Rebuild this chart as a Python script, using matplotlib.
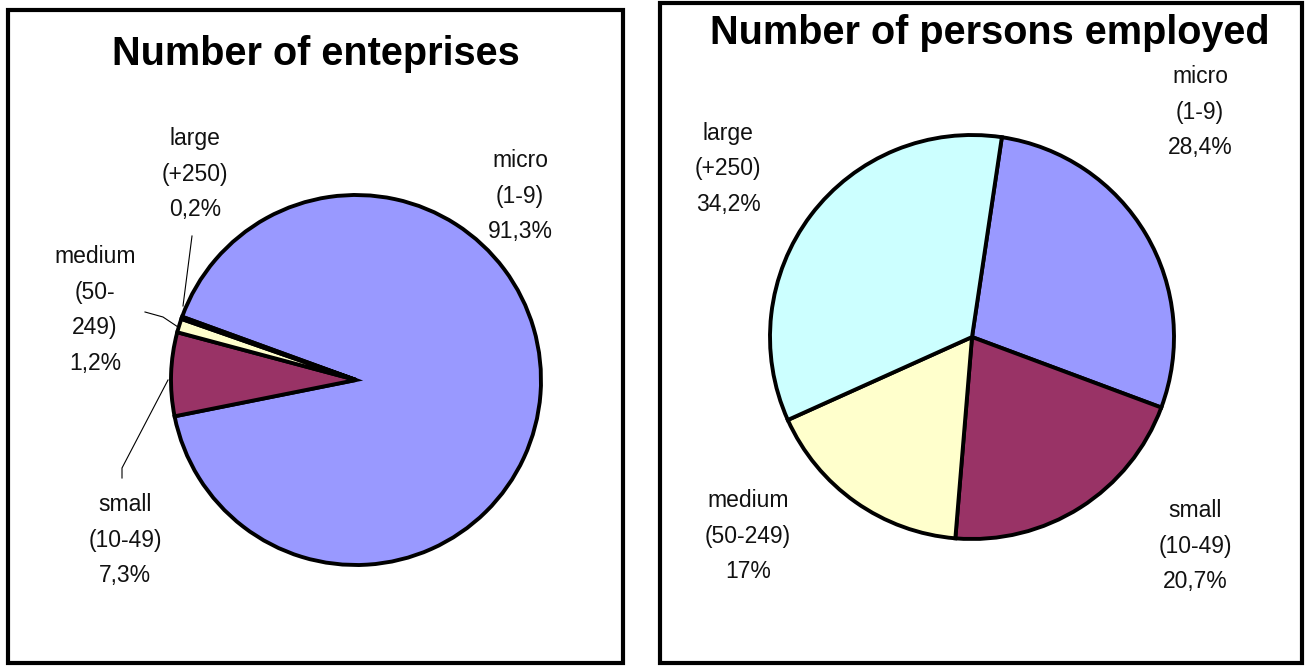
import matplotlib.pyplot as plt
from matplotlib.patches import Rectangle

# data
sizes = ['micro', 'small', 'medium', 'large']
colors = ['#9999FF', '#993366', '#FFFFCC', '#CCFFFF']
ent_share = [91.3, 7.3, 1.2, 0.2]
emp_share = [28.4, 20.7, 17.0, 34.2]
ent_labels = ['micro\n(1-9)\n91,3%', 'small\n(10-49)\n7,3%',
              'medium\n(50-\n249)\n1,2%', 'large\n(+250)\n0,2%']
emp_labels = ['micro\n(1-9)\n28,4%', 'small\n(10-49)\n20,7%',
              'medium\n(50-249)\n17%', 'large\n(+250)\n34,2%']

W, H = 1307, 666
plt.rcParams['font.family'] = ['Liberation Sans', 'DejaVu Sans']

fig = plt.figure(figsize=(W / 100, H / 100), dpi=100)
ax = fig.add_axes([0, 0, 1, 1])


def py(y):
    # pixel row from the top -> data y
    return H - y


# panel frames
ax.add_patch(Rectangle((8, py(663)), 615, 653, fill=False, lw=3, ec='black'))
ax.add_patch(Rectangle((660, py(663)), 642, 660, fill=False, lw=3, ec='black'))

wp = dict(edgecolor='black', linewidth=2.8)
ax.pie(ent_share, colors=colors, startangle=160, counterclock=False,
       center=(356, py(380)), radius=185, frame=True, wedgeprops=wp)
ax.pie(emp_share, colors=colors, startangle=81.5, counterclock=False,
       center=(972, py(337)), radius=202, frame=True, wedgeprops=wp)

ax.text(316, py(54), 'Number of enteprises', ha='center', va='center',
        fontsize=28.5, fontweight='bold')
ax.text(990, py(33), 'Number of persons employed', ha='center', va='center',
        fontsize=28.5, fontweight='bold')

lab = dict(ha='center', va='center', fontsize=16.5, linespacing=1.7, color='#111111')
ent_pos = [(520, 196), (125, 540), (95, 310), (195, 174)]
emp_pos = [(1200, 112), (1195, 546), (748, 536), (728, 169)]
for t, (x, y) in zip(ent_labels, ent_pos):
    ax.text(x, py(y), t, **lab)
for t, (x, y) in zip(emp_labels, emp_pos):
    ax.text(x, py(y), t, **lab)

# leader lines for the thin slices
ax.plot([192, 183], [py(236), py(306)], color='black', lw=0.8)
ax.plot([145, 163, 178], [py(312), py(317), py(327)], color='black', lw=0.8)
ax.plot([168, 122, 122], [py(380), py(468), py(478)], color='black', lw=0.8)

ax.set_xlim(0, W)
ax.set_ylim(0, H)
ax.set_aspect('equal')
ax.axis('off')

fig.savefig('out.png', dpi=100, facecolor='white')
